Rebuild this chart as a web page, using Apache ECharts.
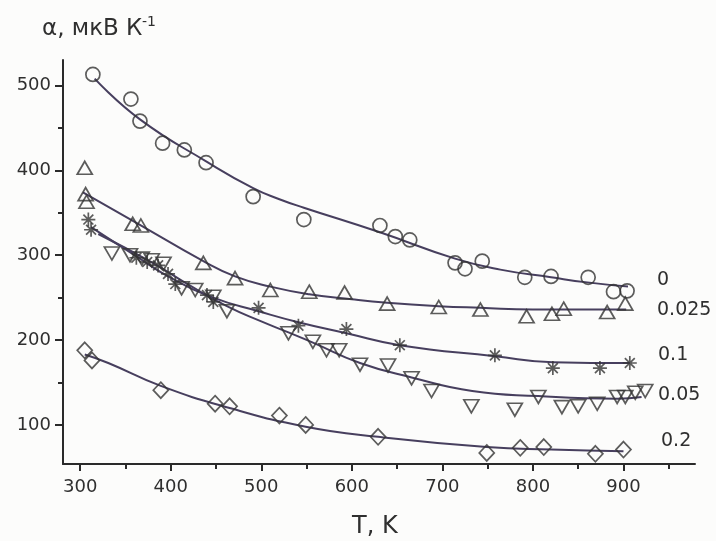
<!DOCTYPE html>
<html>
<head>
<meta charset="utf-8">
<script src="https://cdn.jsdelivr.net/npm/echarts@6/dist/echarts.min.js"></script>
<style>
html,body{margin:0;padding:0;background:#fcfcfb;}
#c{width:716px;height:541px;}
</style>
</head>
<body>
<div id="c"></div>
<script>
// ---- data ----
var xMajorTicks = [300, 400, 500, 600, 700, 800, 900];
var xMinorTicks = [350, 450, 550, 650, 750, 850, 950];
var yMajorTicks = [100, 200, 300, 400, 500];
var yMinorTicks = [150, 250, 350, 450];

// x = 0 (circles)
var t0 = [314,356,366,391,415,439,491,547,631,648,664,714,725,744,791,820,861,889,904];
var a0 = [513,484,458,432,424,409,369,342,335,322,318,291,284,293,274,275,274,257,258];
var fitT0 = [316,366,440,491,520,547,631,714,764,820,860,905];
var fitA0 = [508,460,410,379,366,356,327,296,283,274,268,263];

// x = 0.025 (triangles up)
var t025 = [305,306,307,358,367,436,471,510,553,592,639,696,742,793,821,834,882,902];
var a025 = [403,372,363,337,335,291,273,259,257,256,243,239,236,228,231,237,233,243];
var fitT025 = [303,364,436,471,510,553,600,639,696,742,800,903];
var fitA025 = [374,337,293,275,263,254,248,244,240,238,236,236];

// x = 0.1 (asterisks)
var t1 = [309,312,362,374,386,397,405,440,447,497,541,594,653,758,822,874,907];
var a1 = [342,330,297,292,288,278,266,253,245,238,217,213,194,182,167,167,173];
var fitT1 = [312,360,399,447,497,541,594,653,758,822,907];
var fitA1 = [333,300,274,250,234,221,208,194,181,174,173];

// x = 0.05 (triangles down)
var t05 = [335,355,368,379,392,412,427,447,462,530,557,572,586,609,640,666,688,732,780,806,832,850,871,893,902,913,924];
var a05 = [302,300,296,294,290,261,259,251,234,208,198,188,188,171,170,155,140,122,118,133,121,122,125,133,133,138,140];
var fitT05 = [320,380,420,462,500,530,557,609,666,733,806,893,920];
var fitA05 = [325,291,265,240,222,209,197,173,156,140,134,131,133];

// x = 0.2 (diamonds)
var t2 = [305,313,389,449,465,520,549,629,749,786,812,869,900];
var a2 = [188,176,141,125,122,111,100,86,67,73,74,66,71];
var fitT2 = [305,331,389,465,549,629,749,820,900];
var fitA2 = [183,173,146,120,98,86,74,71,69];

var seriesLabels = ['0', '0.025', '0.1', '0.05', '0.2'];

// ---- helpers ----
function pairs(xs, ys){ return xs.map(function(x,i){ return [x, ys[i]]; }); }

var lineColor = '#473f5e';
var markColor = '#333333';
var textColor = '#2f2f2f';
var FONT = 'DejaVu Sans';
var asterisk = 'path://M0,-10L0,10M-10,0L10,0M-7.07,-7.07L7.07,7.07M-7.07,7.07L7.07,-7.07';

function fitSeries(xs, ys){
  return {type:'line', data: pairs(xs, ys), smooth: 0.5, showSymbol:false, silent:true,
    lineStyle:{color:lineColor, width:2}, z:2};
}
function markSeries(xs, ys, symbol, size, rotate){
  return {type:'scatter', data: pairs(xs, ys), symbol: symbol, symbolSize: size,
    symbolRotate: rotate || 0,
    itemStyle:{color:'rgba(255,255,255,0)', borderColor:markColor, borderWidth:1.7}, z:3};
}

var chart = echarts.init(document.getElementById('c'));
var xMin = 281, xMax = 979, yMin = 54, yMax = 530;

chart.setOption({
  backgroundColor:'#fcfcfb',
  animation:false,
  grid:{left:63, right:21, top:60, bottom:77, containLabel:false},
  xAxis:[{
    type:'value', min:xMin, max:xMax, position:'bottom',
    axisLine:{show:true, onZero:false, lineStyle:{color:'#2a2a2a', width:2}},
    axisTick:{show:true, customValues:xMajorTicks, length:7, lineStyle:{color:'#2a2a2a', width:2}},
    axisLabel:{show:true, customValues:xMajorTicks, fontFamily:FONT, fontSize:18, color:textColor, margin:14},
    splitLine:{show:false}
  },{
    type:'value', min:xMin, max:xMax, position:'bottom',
    axisLine:{show:false},
    axisTick:{show:true, customValues:xMinorTicks, length:5, lineStyle:{color:'#2a2a2a', width:2}},
    axisLabel:{show:false},
    splitLine:{show:false}
  }],
  yAxis:[{
    type:'value', min:yMin, max:yMax, position:'left',
    axisLine:{show:true, onZero:false, lineStyle:{color:'#2a2a2a', width:2}},
    axisTick:{show:true, customValues:yMajorTicks, length:8, lineStyle:{color:'#2a2a2a', width:2}},
    axisLabel:{show:true, customValues:yMajorTicks, fontFamily:FONT, fontSize:18, color:textColor, margin:12},
    splitLine:{show:false}
  },{
    type:'value', min:yMin, max:yMax, position:'left',
    axisLine:{show:false},
    axisTick:{show:true, customValues:yMinorTicks, length:5, lineStyle:{color:'#2a2a2a', width:2}},
    axisLabel:{show:false},
    splitLine:{show:false}
  }],
  series:[
    fitSeries(fitT0, fitA0),
    fitSeries(fitT025, fitA025),
    fitSeries(fitT1, fitA1),
    fitSeries(fitT05, fitA05),
    fitSeries(fitT2, fitA2),
    markSeries(t0, a0, 'circle', 14),
    markSeries(t025, a025, 'triangle', [15,13]),
    markSeries(t1, a1, asterisk, 14),
    markSeries(t05, a05, 'triangle', [15,13], 180),
    markSeries(t2, a2, 'diamond', [15,16])
  ],
  graphic:[
    {type:'text', left:42, top:18, style:{text:'α, мкВ К', fontFamily:FONT, fontSize:23, fill:textColor}},
    {type:'text', left:142, top:15, style:{text:'-1', fontFamily:FONT, fontSize:14, fill:textColor}},
    {type:'text', left:352, top:515, style:{text:'T, K', fontFamily:FONT, fontSize:24, fill:textColor}},
    {type:'text', left:657, top:271, style:{text:seriesLabels[0], fontFamily:FONT, fontSize:19, fill:textColor}},
    {type:'text', left:657, top:301, style:{text:seriesLabels[1], fontFamily:FONT, fontSize:19, fill:textColor}},
    {type:'text', left:658, top:346, style:{text:seriesLabels[2], fontFamily:FONT, fontSize:19, fill:textColor}},
    {type:'text', left:658, top:386, style:{text:seriesLabels[3], fontFamily:FONT, fontSize:19, fill:textColor}},
    {type:'text', left:661, top:432, style:{text:seriesLabels[4], fontFamily:FONT, fontSize:19, fill:textColor}}
  ]
});
</script>
</body>
</html>
